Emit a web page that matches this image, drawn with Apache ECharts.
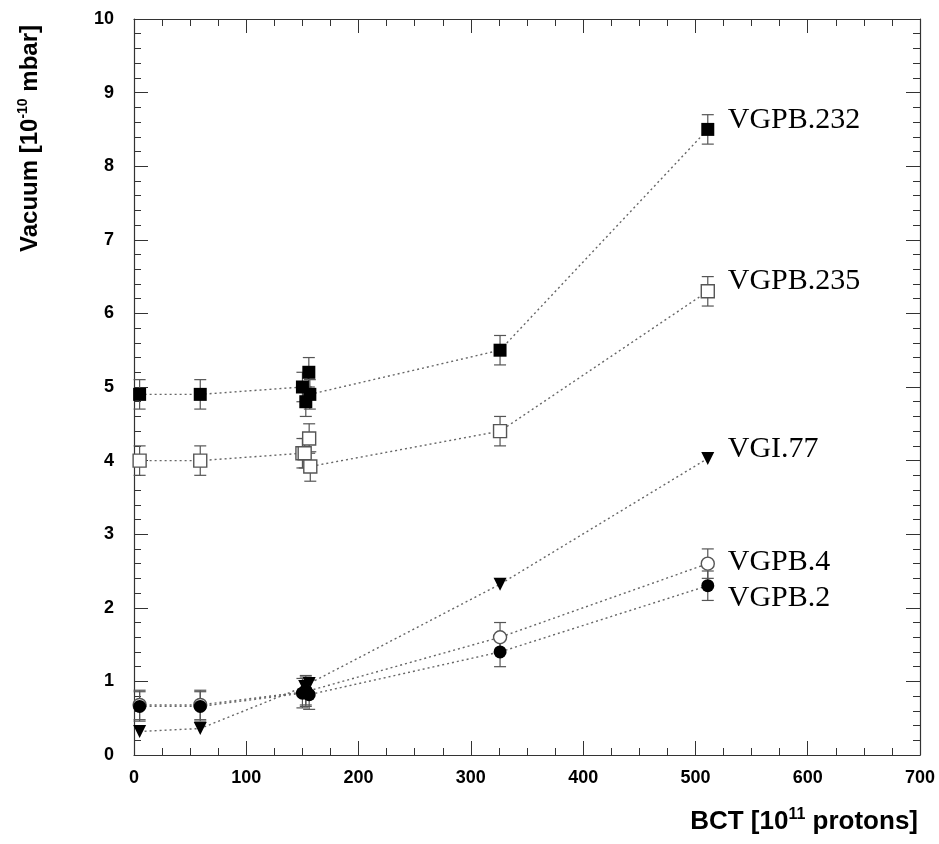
<!DOCTYPE html>
<html>
<head>
<meta charset="utf-8">
<script src="https://cdn.jsdelivr.net/npm/echarts@6/dist/echarts.min.js"></script>
<style>
  html, body { margin: 0; padding: 0; background: #fff; }
  #chart { width: 939px; height: 844px; }
</style>
</head>
<body>
<div id="chart"></div>
<script>
// values (BCT in 1e11 protons, vacuum in 1e-10 mbar)
const vgpb232X = [5, 59, 150, 153, 155.7, 156.6, 326, 511];
const vgpb232Y = [4.9, 4.9, 5.0, 4.8, 5.2, 4.9, 5.5, 8.5];
const vgpb232Err = [0.2, 0.2, 0.2, 0.2, 0.2, 0.2, 0.2, 0.2];

const vgpb235X = [5, 59, 150, 152, 156, 157, 326, 511];
const vgpb235Y = [4.0, 4.0, 4.1, 4.1, 4.3, 3.92, 4.4, 6.3];
const vgpb235Err = [0.2, 0.2, 0.2, 0.2, 0.2, 0.2, 0.2, 0.2];

const vgi77X = [5, 59, 152, 156, 326, 511];
const vgi77Y = [0.32, 0.36, 0.93, 0.97, 2.32, 4.03];

const vgpb4X = [5, 59, 153, 326, 511];
const vgpb4Y = [0.68, 0.68, 0.86, 1.6, 2.6];
const vgpb4Err = [0.2, 0.2, 0.2, 0.2, 0.2];

const vgpb2X = [5, 59, 150, 153, 156, 326, 511];
const vgpb2Y = [0.66, 0.66, 0.84, 0.88, 0.82, 1.4, 2.3];
const vgpb2Err = [0.2, 0.2, 0.2, 0.2, 0.2, 0.2, 0.2];

const chart = echarts.init(document.getElementById("chart"));

function pairs(xs, ys) {
  return xs.map((x, i) => [x, ys[i]]);
}

function errData(xs, ys, errs) {
  return xs.map((x, i) => [x, ys[i] - errs[i], ys[i] + errs[i]]);
}

function renderError(params, api) {
  const lo = api.coord([api.value(0), api.value(1)]);
  const hi = api.coord([api.value(0), api.value(2)]);
  const cap = 6;
  const style = { stroke: "#555", lineWidth: 1.2 };
  return {
    type: "group",
    children: [
      { type: "line", shape: { x1: lo[0], y1: lo[1], x2: hi[0], y2: hi[1] }, style },
      { type: "line", shape: { x1: lo[0] - cap, y1: lo[1], x2: lo[0] + cap, y2: lo[1] }, style },
      { type: "line", shape: { x1: hi[0] - cap, y1: hi[1], x2: hi[0] + cap, y2: hi[1] }, style },
    ],
  };
}

function errSeries(xs, ys, errs) {
  return {
    type: "custom",
    renderItem: renderError,
    data: errData(xs, ys, errs),
    z: 1,
    silent: true,
  };
}

function lineSeries(name, xs, ys, symbol, filled, labelDy, rotate) {
  return {
    name: name,
    type: "line",
    data: pairs(xs, ys),
    symbol: symbol,
    symbolSize: 13,
    symbolRotate: rotate || 0,
    z: 3,
    lineStyle: { color: "#666", width: 1.4, type: [2, 3] },
    itemStyle: filled
      ? { color: "#000", borderColor: "#000", borderWidth: 0 }
      : { color: "#fff", borderColor: "#555", borderWidth: 1.4 },
    endLabel: {
      show: true,
      formatter: name,
      distance: 20,
      offset: [0, labelDy],
      color: "#000",
      fontFamily: "Liberation Serif",
      fontSize: 30,
    },
    silent: true,
  };
}

const tickFont = { fontFamily: "Liberation Sans", fontWeight: "bold", fontSize: 18, color: "#000" };

function xAxisCfg(pos, showLabel) {
  return {
    type: "value",
    position: pos,
    min: 0,
    max: 700,
    interval: 100,
    axisLine: { show: true, onZero: false, lineStyle: { color: "#333", width: 1.2 } },
    axisTick: { show: true, inside: true, length: 14, lineStyle: { color: "#333" } },
    minorTick: { show: true, splitNumber: 4, length: 7, lineStyle: { color: "#333" } },
    axisLabel: Object.assign({ show: showLabel, margin: 14 }, tickFont),
    splitLine: { show: false },
  };
}

function yAxisCfg(pos, showLabel) {
  return {
    type: "value",
    position: pos,
    min: 0,
    max: 10,
    interval: 1,
    axisLine: { show: true, onZero: false, lineStyle: { color: "#333", width: 1.2 } },
    axisTick: { show: true, inside: true, length: 14, lineStyle: { color: "#333" } },
    minorTick: { show: true, splitNumber: 5, length: 7, lineStyle: { color: "#333" } },
    axisLabel: Object.assign({ show: showLabel, margin: 20 }, tickFont),
    splitLine: { show: false },
  };
}

const option = {
  animation: false,
  backgroundColor: "#fff",
  grid: { left: 134, right: 19, top: 19, bottom: 89 },
  xAxis: [xAxisCfg("bottom", true), xAxisCfg("top", false)],
  yAxis: [yAxisCfg("left", true), yAxisCfg("right", false)],
  graphic: [
    {
      type: "text",
      x: 30,
      y: 252,
      rotation: Math.PI / 2,
      style: {
        text: "{n|Vacuum [10}{s|-10}{n| mbar]}",
        textAlign: "left",
        textVerticalAlign: "middle",
        rich: {
          n: { fontFamily: "Liberation Sans", fontWeight: "bold", fontSize: 24, fill: "#000", lineHeight: 28 },
          s: { fontFamily: "Liberation Sans", fontWeight: "bold", fontSize: 14, fill: "#000", verticalAlign: "top", lineHeight: 28 },
        },
      },
    },
    {
      type: "text",
      x: 918,
      y: 822,
      style: {
        text: "{n|BCT [10}{s|11}{n| protons]}",
        textAlign: "right",
        textVerticalAlign: "middle",
        rich: {
          n: { fontFamily: "Liberation Sans", fontWeight: "bold", fontSize: 26, fill: "#000", lineHeight: 30 },
          s: { fontFamily: "Liberation Sans", fontWeight: "bold", fontSize: 16, fill: "#000", verticalAlign: "top", lineHeight: 30 },
        },
      },
    },
  ],
  series: [
    errSeries(vgpb232X, vgpb232Y, vgpb232Err),
    errSeries(vgpb235X, vgpb235Y, vgpb235Err),
    errSeries(vgpb4X, vgpb4Y, vgpb4Err),
    errSeries(vgpb2X, vgpb2Y, vgpb2Err),
    lineSeries("VGPB.232", vgpb232X, vgpb232Y, "rect", true, -9),
    lineSeries("VGPB.235", vgpb235X, vgpb235Y, "rect", false, -10),
    lineSeries("VGI.77", vgi77X, vgi77Y, "triangle", true, -9, 180),
    lineSeries("VGPB.4", vgpb4X, vgpb4Y, "circle", false, -2),
    lineSeries("VGPB.2", vgpb2X, vgpb2Y, "circle", true, 12),
  ],
};

chart.setOption(option);
</script>
</body>
</html>
